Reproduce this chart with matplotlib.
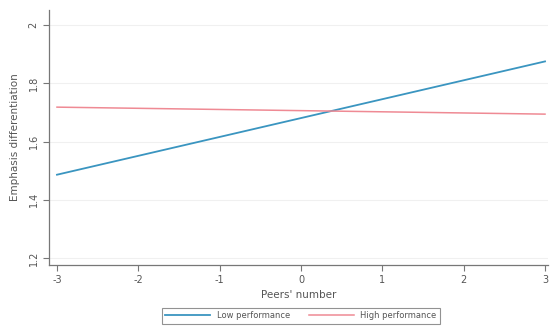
import matplotlib
matplotlib.use("Agg")
import matplotlib.pyplot as plt
import numpy as np

x_vals = [-3, 3]
low_perf = [1.486, 1.875]
high_perf = [1.718, 1.694]
x_ticks = [-3, -2, -1, 0, 1, 2, 3]
y_ticks = [1.2, 1.4, 1.6, 1.8, 2.0]
y_tick_labels = ["1.2", "1.4", "1.6", "1.8", "2"]

fig = plt.figure(figsize=(5.52, 3.27), dpi=100)
ax = fig.add_axes([0.0888, 0.1896, 0.904, 0.7798])

ax.plot(x_vals, low_perf, color="#3a95c0", lw=1.3, label="Low performance")
ax.plot(x_vals, high_perf, color="#ef8a94", lw=1.1, label="High performance")

ax.set_xlim(-3.098, 3.037)
ax.set_ylim(1.176, 2.0515)
ax.set_xticks(x_ticks)
ax.set_xticklabels([str(t) for t in x_ticks])
ax.set_yticks(y_ticks)
ax.set_yticklabels(y_tick_labels, rotation=90, va="center")
ax.grid(axis="y", color="#f0f0f0", lw=0.8)
ax.set_axisbelow(True)

for s in ["top", "right"]:
    ax.spines[s].set_visible(False)
for s in ["left", "bottom"]:
    ax.spines[s].set_color("#777777")
    ax.spines[s].set_linewidth(0.9)
ax.tick_params(axis="both", colors="#777777", labelcolor="#555555", labelsize=7, length=4, width=0.8)

ax.set_xlabel("Peers' number", fontsize=7.5, color="#555555", labelpad=3)
ax.set_ylabel("Emphasis differentiation", fontsize=7.5, color="#555555", labelpad=6)

leg = fig.legend(loc="center", bbox_to_anchor=(0.545, 0.034), ncol=2, fontsize=6,
                 frameon=True, fancybox=False, edgecolor="#777777", handlelength=5.4,
                 columnspacing=2.2, borderpad=0.4, handletextpad=0.8)
leg.get_frame().set_linewidth(0.8)
for t in leg.get_texts():
    t.set_color("#555555")

fig.savefig("out.png", dpi=100)
